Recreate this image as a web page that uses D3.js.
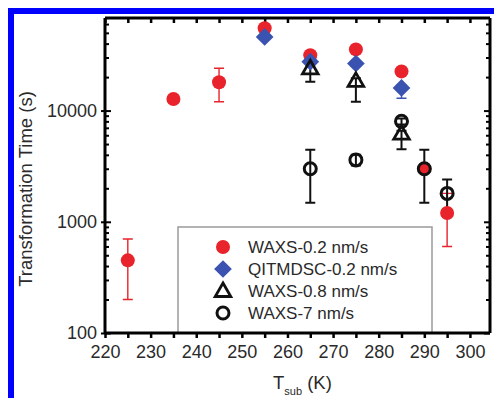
<!DOCTYPE html>
<html>
<head>
<meta charset="utf-8">
<script src="https://cdn.jsdelivr.net/npm/d3@7"></script>
<style>
  body { margin: 0; background: #fff; }
  svg text { font-family: "Liberation Sans", Arial, sans-serif; fill: #2a2a2a; }
</style>
</head>
<body>
<div id="chart"></div>
<script>
// data: [T_sub, time, errLow, errHigh]
const waxs02 = [
  [225, 450, 200, 700],
  [235, 12700, 11800, 13600],
  [245, 18000, 12000, 24000],
  [255, 55000, 52000, 58000],
  [265, 31500, 29000, 34000],
  [275, 35500, 33000, 38000],
  [285, 22500, 21000, 24000],
  [290, 3000, 2800, 3200],
  [295, 1200, 600, 1800]
];
const qitmdsc02 = [
  [255, 46000, 44000, 48000],
  [265, 27500, 26000, 29000],
  [275, 26500, 25000, 28000],
  [285, 16000, 12900, 17000]
];
const waxs08 = [
  [265, 24000, 18200, 26000],
  [275, 18500, 12000, 19500],
  [285, 6200, 4500, 6600]
];
const waxs7 = [
  [265, 3000, 1480, 4450],
  [275, 3600, 3200, 4000],
  [285, 8000, 7500, 8500],
  [290, 3000, 1480, 4450],
  [295, 1800, 1200, 2400]
];
const xTicks = [220, 230, 240, 250, 260, 270, 280, 290, 300];
const yTicks = [100, 1000, 10000];
const legendLabels = ["WAXS-0.2 nm/s", "QITMDSC-0.2 nm/s", "WAXS-0.8 nm/s", "WAXS-7 nm/s"];

const width = 494, height = 398;
const margin = { top: 18, right: 4, bottom: 65, left: 105 };

const red = "#e8232b", blue = "#3a52b0";

const svg = d3.select("#chart").append("svg")
  .attr("width", width)
  .attr("height", height);

svg.append("rect").attr("width", width).attr("height", height).attr("fill", "#fff");

// blue frame (top + left)
svg.append("path")
  .attr("d", `M11,${height} L11,11 L${width},11`)
  .attr("fill", "none")
  .attr("stroke", "#0000ff")
  .attr("stroke-width", 6);

const x = d3.scaleLinear()
  .domain([220, 304.4])
  .range([margin.left, width - margin.right]);

const y = d3.scaleLog()
  .domain([100, 68000])
  .range([height - margin.bottom, margin.top]);

const x0 = x.range()[0], x1 = x.range()[1];
const y0 = y.range()[0], y1 = y.range()[1];

// legend box first so marks sit on top
const lg = svg.append("g");
lg.append("rect")
  .attr("x", 178).attr("y", 227)
  .attr("width", 254).attr("height", y0 - 227)
  .attr("fill", "#fff")
  .attr("stroke", "#9a9a9a")
  .attr("stroke-width", 1.5);

// axes
const minorX = d3.range(220, 305, 5);
const minorY = [];
[100, 1000, 10000].forEach(d => { for (let k = 1; k < 10; k++) if (d * k <= 68000) minorY.push(d * k); });

svg.append("g")
  .attr("transform", `translate(0,${y0})`)
  .call(d3.axisBottom(x).tickValues(minorX).tickSize(5).tickFormat(d => xTicks.includes(d) ? d : ""))
  .call(g => g.select(".domain").attr("stroke-width", 3).attr("d", `M${x0},0H${x1}`))
  .call(g => g.selectAll(".tick line").attr("stroke-width", 2.5))
  .call(g => g.selectAll("text").attr("font-size", 18).attr("dy", "0.95em").attr("fill", "#2a2a2a"));

svg.append("g")
  .attr("transform", `translate(0,${y1})`)
  .call(d3.axisBottom(x).tickValues(minorX).tickSize(5).tickFormat(""))
  .call(g => g.select(".domain").attr("stroke-width", 3).attr("d", `M${x0},0H${x1}`))
  .call(g => g.selectAll(".tick line").attr("stroke-width", 2.5));

svg.append("g")
  .attr("transform", `translate(${x0},0)`)
  .call(d3.axisRight(y).tickValues(minorY).tickSize(4).tickFormat(d => yTicks.includes(d) ? d : ""))
  .call(g => g.select(".domain").attr("stroke-width", 3).attr("d", `M0,${y0}V${y1}`))
  .call(g => g.selectAll(".tick line").attr("stroke-width", 2)
    .attr("x1", d => yTicks.includes(d) ? -4 : 0)
    .attr("x2", d => yTicks.includes(d) ? 6 : 4))
  .call(g => g.selectAll("text").attr("font-size", 18).attr("x", -8)
    .attr("text-anchor", "end").attr("fill", "#2a2a2a"));

svg.append("g")
  .attr("transform", `translate(${x1},0)`)
  .call(d3.axisLeft(y).tickValues(minorY).tickSize(4).tickFormat(""))
  .call(g => g.select(".domain").attr("stroke-width", 3).attr("d", `M0,${y0}V${y1}`))
  .call(g => g.selectAll(".tick line").attr("stroke-width", 2)
    .attr("x2", d => yTicks.includes(d) ? -6 : -4));

// axis titles
svg.append("text")
  .attr("transform", `translate(32,189) rotate(-90)`)
  .attr("text-anchor", "middle")
  .attr("font-size", 18.5)
  .text("Transformation Time (s)");

const xt = svg.append("text")
  .attr("x", 273).attr("y", 389)
  .attr("font-size", 18.5);
xt.append("tspan").text("T");
xt.append("tspan").attr("font-size", 11).attr("dy", 6).text("sub");
xt.append("tspan").attr("dy", -6).text(" (K)");

// error bars
function errBars(data, color, w, cap) {
  const g = svg.append("g").attr("stroke", color).attr("stroke-width", w).attr("fill", "none");
  g.selectAll("path").data(data).join("path")
    .attr("d", d => {
      const cx = x(d[0]), lo = y(d[2]), hi = y(d[3]);
      return `M${cx},${lo}V${hi}M${cx - cap},${lo}H${cx + cap}M${cx - cap},${hi}H${cx + cap}`;
    });
}

errBars(waxs02, red, 1.4, 5);
errBars(qitmdsc02, blue, 1.4, 5);
errBars(waxs08, "#111", 2, 5);
errBars(waxs7, "#111", 2, 5);

const tri = d3.symbol().type(d3.symbolTriangle).size(105);
const dia = d3.symbol().type(d3.symbolDiamond2).size(200);

function drawRed(g, pts) {
  g.selectAll(null).data(pts).join("circle")
    .attr("cx", d => x(d[0])).attr("cy", d => y(d[1]))
    .attr("r", 7).attr("fill", red);
}
function drawBlue(g, pts) {
  g.selectAll(null).data(pts).join("path")
    .attr("transform", d => `translate(${x(d[0])},${y(d[1])})`)
    .attr("d", dia).attr("fill", blue);
}
function drawTri(g, pts) {
  g.selectAll(null).data(pts).join("path")
    .attr("transform", d => `translate(${x(d[0])},${y(d[1]) + 1})`)
    .attr("d", tri).attr("fill", "none").attr("stroke", "#111").attr("stroke-width", 2.8);
}
function drawCirc(g, pts) {
  g.selectAll(null).data(pts).join("circle")
    .attr("cx", d => x(d[0])).attr("cy", d => y(d[1]))
    .attr("r", 6).attr("fill", "none").attr("stroke", "#111").attr("stroke-width", 3);
}

const marks = svg.append("g");
drawRed(marks.append("g"), waxs02);
drawBlue(marks.append("g"), qitmdsc02);
drawTri(marks.append("g"), waxs08);
drawCirc(marks.append("g"), waxs7);

// legend entries
const legendY = [247, 269, 291, 313];
const lx = 223;
lg.append("circle").attr("cx", lx).attr("cy", legendY[0]).attr("r", 7).attr("fill", red);
lg.append("path").attr("transform", `translate(${lx},${legendY[1]})`).attr("d", dia).attr("fill", blue);
lg.append("path").attr("transform", `translate(${lx},${legendY[2] + 1})`).attr("d", tri)
  .attr("fill", "none").attr("stroke", "#111").attr("stroke-width", 2.8);
lg.append("circle").attr("cx", lx).attr("cy", legendY[3]).attr("r", 6)
  .attr("fill", "none").attr("stroke", "#111").attr("stroke-width", 3);

lg.selectAll("text.lab").data(legendLabels).join("text")
  .attr("class", "lab")
  .attr("x", 248)
  .attr("y", (d, i) => legendY[i])
  .attr("dy", "0.36em")
  .attr("font-size", 17)
  .text(d => d);
</script>
</body>
</html>
